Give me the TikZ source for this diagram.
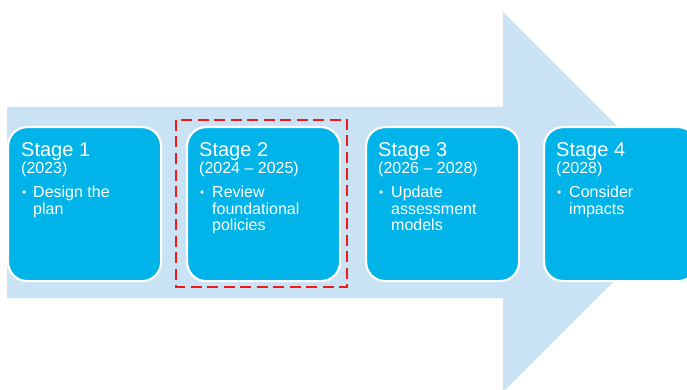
\documentclass[tikz,border=0pt]{standalone}
\usepackage{fontspec}
\setmainfont{Liberation Sans}
\definecolor{arrowblue}{HTML}{C9E3F5}
\definecolor{boxblue}{HTML}{00B4EA}
\definecolor{dashred}{HTML}{F01818}
\tikzset{
  stagebox/.style={draw=white, line width=2.2pt, fill=boxblue, rounded corners=19pt,
    minimum width=153pt, minimum height=154pt, anchor=north west, inner sep=0pt},
  titletext/.style={anchor=base west, inner sep=0pt, text=white, font=\fontsize{20}{20}\selectfont},
  yeartext/.style={anchor=base west, inner sep=0pt, text=white, font=\fontsize{16}{16}\selectfont},
  bullettext/.style={anchor=base west, inner sep=0pt, text=white, font=\fontsize{12}{12}\selectfont},
  itemtext/.style={anchor=base west, inner sep=0pt, text=white},
}
\newcommand{\itemlines}[1]{\parbox[t]{120pt}{\fontsize{16}{16.5}\selectfont\raggedright #1}}
\begin{document}
\begin{tikzpicture}[x=1pt,y=-1pt]
\useasboundingbox (0,0) rectangle (687,390);
\begin{scope}
\clip (0,0) rectangle (687,390);
\fill[arrowblue] (7,107) -- (503,107) -- (503,12) -- (693,202) -- (503,392) -- (503,298) -- (7,298) -- cycle;
\node[stagebox] (b1) at (7,126) {};
\node[stagebox] (b2) at (186,126) {};
\node[stagebox] (b3) at (365,126) {};
\node[stagebox] (b4) at (543,126) {};
\end{scope}
% Stage 1
\node[titletext] (t1) at (21,157) {Stage 1};
\node[yeartext] (y1) at (21,173) {(2023)};
\node[bullettext] (d1) at (22,196) {•};
\node[itemtext] (i1) at (33,197.5) {\itemlines{Design the\\plan}};
% Stage 2
\node[titletext] (t2) at (199,157) {Stage 2};
\node[yeartext] (y2) at (199,173) {(2024 – 2025)};
\node[bullettext] (d2) at (200,196) {•};
\node[itemtext] (i2) at (212,197.5) {\itemlines{Review\\foundational\\policies}};
% Stage 3
\node[titletext] (t3) at (378,157) {Stage 3};
\node[yeartext] (y3) at (378,173) {(2026 – 2028)};
\node[bullettext] (d3) at (379,196) {•};
\node[itemtext] (i3) at (391,197.5) {\itemlines{Update\\assessment\\models}};
% Stage 4
\node[titletext] (t4) at (556,157) {Stage 4};
\node[yeartext] (y4) at (556,173) {(2028)};
\node[bullettext] (d4) at (557,196) {•};
\node[itemtext] (i4) at (569,197.5) {\itemlines{Consider\\impacts}};
% highlight
\draw[dashred, line width=2.8pt, dash pattern=on 11pt off 5.5pt] (176,120) rectangle (347,287);
\end{tikzpicture}
\end{document}
